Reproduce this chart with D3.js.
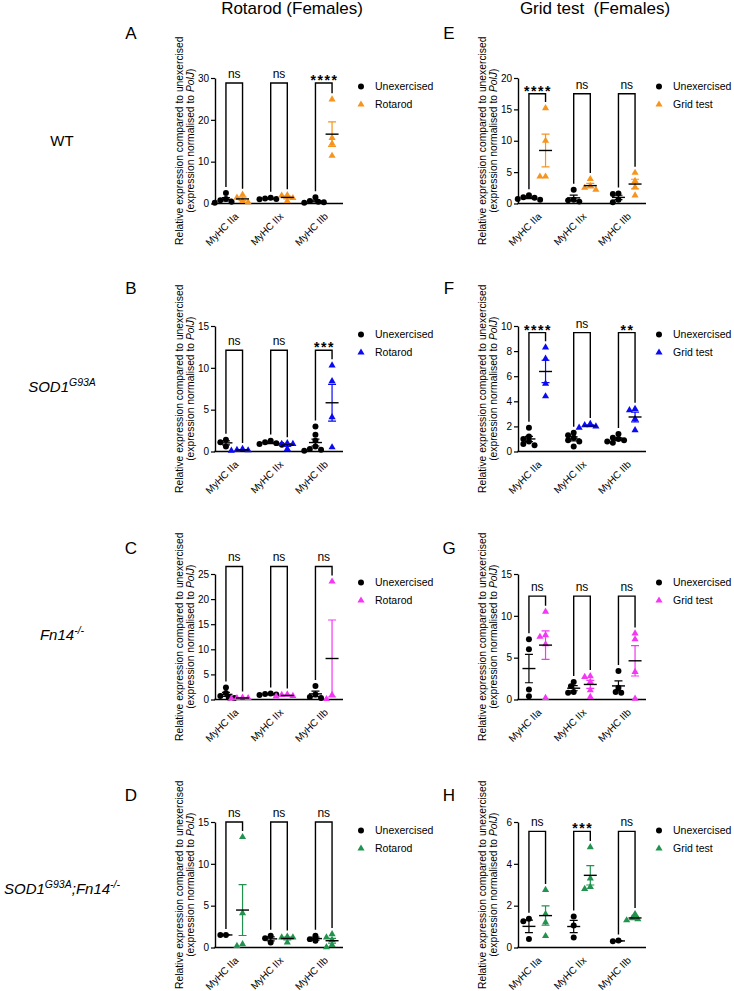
<!DOCTYPE html>
<html>
<head>
<meta charset="utf-8">
<script src="https://cdn.jsdelivr.net/npm/d3@7"></script>
<style>
body{margin:0;background:#fff;}
text{font-family:"Liberation Sans",Arial,sans-serif;fill:#000;}
</style>
</head>
<body>
<script>
var categories = ["MyHC IIa","MyHC IIx","MyHC IIb"];

// rotarod, unexercised vs exercised, one list per category
var wtRotUnex = [[2.5,1.1,0.8,0.4,0.2],[1.4,1.2,1.1,1.0],[1.5,0.6,0.4,0.3,0.2]];
var wtRotEx = [[2.1,1.4,0.6,0.3],[2.0,1.9,1.3,0.6],[24.9,15.7,14.3,11.4]];
var sodRotUnex = [[1.4,1.1,0.6],[1.3,1.1,1.0,0.9,0.8],[3.0,2.0,1.3,0.6,0.3,0.2,0.1]];
var sodRotEx = [[0.3,0.2,0.15,0.1],[1.0,0.9,0.9,0.3],[10.3,8.4,4.1,0.5]];
var fnRotUnex = [[2.4,1.3,0.7,0.4,0.3],[1.2,1.1,1.0,0.9],[2.7,1.0,0.5,0.3]];
var fnRotEx = [[0.4,0.3,0.3,0.2],[1.0,0.9,0.7,0.6],[23.5,0.9,0.1]];
var dblRotUnex = [[1.5,1.5],[1.4,1.1,0.6],[1.4,1.0,0.8]];
var dblRotEx = [[13.2,4.1,0.4,0.2],[1.3,1.2,1.2,0.6],[1.6,1.2,0.9,0.3,0.05]];

// grid test
var wtGridUnex = [[1.3,1.0,0.9,0.7,0.6],[2.2,0.6,0.5,0.3],[1.6,1.5,0.6,0.2]];
var wtGridEx = [[15.2,10.0,4.3,4.3],[3.9,2.8,2.5,2.2],[4.9,3.6,2.6,1.3]];
var sodGridUnex = [[1.9,1.2,1.0,0.8,0.6,0.5],[1.5,1.3,1.1,0.9,0.8,0.4],[1.4,1.1,1.0,0.9,0.8,0.7]];
var sodGridEx = [[8.3,7.4,5.4,4.4],[2.2,2.1,2.0,1.9],[3.4,3.3,2.6,1.7]];
var fnGridUnex = [[7.2,6.0,1.2,0.4],[2.1,1.6,0.9,0.8],[3.4,1.4,0.9,0.8]];
var fnGridEx = [[10.5,7.7,7.5,6.6,0.2],[2.8,2.7,2.1,1.1,0.3],[7.9,7.2,3.3,0.1]];
var dblGridUnex = [[1.37,1.25,0.41],[1.48,1.05,0.48],[0.3,0.33]];
var dblGridEx = [[2.75,1.6,1.2,0.55],[4.8,3.3,2.9,2.8],[1.6,1.4,1.35,1.3]];

var sigA = ["ns","ns","****"], sigB = ["ns","ns","***"], sigC = ["ns","ns","ns"], sigD = ["ns","ns","ns"];
var sigE = ["****","ns","ns"], sigF = ["****","ns","**"], sigG = ["ns","ns","ns"], sigH = ["ns","***","ns"];

var ticksA = [0,10,20,30], ticksB = [0,5,10,15], ticksC = [0,5,10,15,20,25], ticksD = [0,5,10,15];
var ticksE = [0,5,10,15,20], ticksF = [0,2,4,6,8,10], ticksG = [0,5,10,15], ticksH = [0,2,4,6];

var orange = "#F7941D", blue = "#0A0AF5", magenta = "#F536F5", green = "#21934F";

var panels = [
	{letter:"A",col:0,row:0,unex:wtRotUnex,ex:wtRotEx,exName:"Rotarod",color:orange,ticks:ticksA,sig:sigA,bracket:28.8},
	{letter:"B",col:0,row:1,unex:sodRotUnex,ex:sodRotEx,exName:"Rotarod",color:blue,ticks:ticksB,sig:sigB,bracket:12.1},
	{letter:"C",col:0,row:2,unex:fnRotUnex,ex:fnRotEx,exName:"Rotarod",color:magenta,ticks:ticksC,sig:sigC,bracket:26.5},
	{letter:"D",col:0,row:3,unex:dblRotUnex,ex:dblRotEx,exName:"Rotarod",color:green,ticks:ticksD,sig:sigD,bracket:15},
	{letter:"E",col:1,row:0,unex:wtGridUnex,ex:wtGridEx,exName:"Grid test",color:orange,ticks:ticksE,sig:sigE,bracket:17.5},
	{letter:"F",col:1,row:1,unex:sodGridUnex,ex:sodGridEx,exName:"Grid test",color:blue,ticks:ticksF,sig:sigF,bracket:9.47},
	{letter:"G",col:1,row:2,unex:fnGridUnex,ex:fnGridEx,exName:"Grid test",color:magenta,ticks:ticksG,sig:sigG,bracket:12.35},
	{letter:"H",col:1,row:3,unex:dblGridUnex,ex:dblGridEx,exName:"Grid test",color:green,ticks:ticksH,sig:sigH,bracket:5.55}
];

var width = 734, height = 991;
var axisX = [215,518];
var rowTop = [78,326,574,822];
var plotW = 128, plotH = 125.5;
var letterX = [131,449];
var letterY = [39,294,554,801];
var legendX = [361,659];

var svg = d3.select("body").append("svg").attr("width",width).attr("height",height);

svg.append("text").attr("x",292).attr("y",14).attr("text-anchor","middle").style("font-size","17px").text("Rotarod (Females)");
svg.append("text").attr("x",595).attr("y",14).attr("text-anchor","middle").style("font-size","17px").style("white-space","pre").text("Grid test  (Females)");

// row labels
var rowLabels = [
	[{t:"WT",it:false}],
	[{t:"SOD1",it:true},{t:"G93A",it:true,sup:true}],
	[{t:"Fn14",it:true},{t:"-/-",it:true,sup:true}],
	[{t:"SOD1",it:true},{t:"G93A",it:true,sup:true},{t:";Fn14",it:true,down:true},{t:"-/-",it:true,sup:true}]
];
var rowLabelY = [146,392,640,894];

rowLabels.forEach(function(parts,i){
	var t = svg.append("text").attr("x",62).attr("y",rowLabelY[i]).attr("text-anchor","middle").style("font-size","15px");
	parts.forEach(function(p){
		var s = t.append("tspan").text(p.t).style("font-style",p.it?"italic":"normal");
		if(p.sup){ s.attr("dy",-6).style("font-size","10.5px"); }
		if(p.down){ s.attr("dy",6); }
	});
});

function meanSem(v){
	var m = d3.mean(v);
	var sd = v.length>1 ? d3.deviation(v) : 0;
	return {mean:m, sem:sd/Math.sqrt(v.length)};
}

// simple swarm so overlapping points spread sideways
function swarm(vals, cx, y){
	var placed = [];
	var minD = 5, step = 2.8;
	vals.slice().sort(function(a,b){ return b-a; }).forEach(function(v){
		var py = y(v), off = 0;
		for(var j=0;j<12;j++){
			off = j==0 ? 0 : Math.ceil(j/2)*step*(j%2 ? -1 : 1);
			var ok = placed.every(function(q){
				var dx = q.x-(cx+off), dy = q.y-py;
				return dx*dx+dy*dy >= minD*minD;
			});
			if(ok) break;
		}
		placed.push({x:cx+off,y:py,v:v});
	});
	return placed;
}

var circle = d3.symbol().type(d3.symbolCircle).size(28);
var tri = d3.symbol().type(d3.symbolTriangle).size(22);

panels.forEach(function(p){
	var ax = axisX[p.col], top = rowTop[p.row];
	var g = svg.append("g");
	var ymax = p.ticks[p.ticks.length-1];
	var y = d3.scaleLinear().domain([0,ymax]).range([top+plotH,top]);
	var x = d3.scalePoint().domain(categories).range([ax,ax+plotW]).padding(0.43);
	var xs = d3.scalePoint().domain(["Unexercised",p.exName]).range([-8.3,8.3]);

	// y axis
	var yAxis = g.append("g").attr("transform","translate("+ax+",0)")
		.call(d3.axisLeft(y).tickValues(p.ticks).tickFormat(d3.format("d")).tickSize(4).tickSizeOuter(0).tickPadding(2));
	yAxis.select(".domain").attr("stroke","#000").attr("stroke-width",1.4);
	yAxis.selectAll(".tick line").attr("stroke","#000").attr("stroke-width",1.2);
	yAxis.selectAll(".tick text").style("font-size","10px").attr("fill","#000");

	// x axis
	var xAxis = g.append("g").attr("transform","translate(0,"+(top+plotH)+")")
		.call(d3.axisBottom(x).tickSize(0).tickSizeOuter(0));
	xAxis.select(".domain").attr("stroke","#000").attr("stroke-width",1.4)
		.attr("d","M"+(ax-0.7)+",0H"+(ax+plotW));
	xAxis.selectAll(".tick text")
		.attr("x",0).attr("y",0).attr("dy","0.35em")
		.attr("transform","translate(2,11) rotate(-45)")
		.attr("text-anchor","end")
		.style("font-size","10px").attr("fill","#000");

	// axis title
	var ty = top+plotH/2;
	g.append("text").attr("transform","translate("+(ax-32.3)+","+ty+") rotate(-90)")
		.attr("text-anchor","middle").style("font-size","10.3px")
		.text("Relative expression compared to unexercised");
	var t2 = g.append("text").attr("transform","translate("+(ax-21.3)+","+ty+") rotate(-90)")
		.attr("text-anchor","middle").style("font-size","10.3px");
	t2.append("tspan").text("(expression normalised to ");
	t2.append("tspan").style("font-style","italic").text("PolJ");
	t2.append("tspan").text(")");

	// panel letter
	g.append("text").attr("x",letterX[p.col]).attr("y",letterY[p.row]).attr("text-anchor","middle")
		.style("font-size","17px").text(p.letter);

	var series = [
		{name:"Unexercised",vals:p.unex,color:"#000",sym:circle},
		{name:p.exName,vals:p.ex,color:p.color,sym:tri}
	];

	var legTop = {};
	series.forEach(function(s){
		var sg = g.append("g");
		s.vals.forEach(function(v,i){
			var cx = x(categories[i])+xs(s.name);
			var pts = swarm(v,cx,y);
			sg.selectAll(null).data(pts).enter().append("path")
				.attr("d",s.sym)
				.attr("transform",function(d){ return "translate("+d.x+","+d.y+")"; })
				.attr("fill",s.color);
			var ms = meanSem(v);
			var ey1 = y(ms.mean+ms.sem), ey0 = y(ms.mean-ms.sem);
			sg.append("path")
				.attr("d","M"+cx+","+ey1+"V"+ey0+"M"+(cx-4)+","+ey1+"H"+(cx+4)+"M"+(cx-4)+","+ey0+"H"+(cx+4))
				.attr("stroke",s.color).attr("stroke-width",1.2).attr("fill","none");
			sg.append("line").attr("x1",cx-6.5).attr("x2",cx+6.5).attr("y1",y(ms.mean)).attr("y2",y(ms.mean))
				.attr("stroke","#000").attr("stroke-width",1.4);
			var hi = Math.max(d3.max(v), ms.mean+ms.sem);
			legTop[s.name+i] = y(hi)-6;
		});
	});

	// significance brackets
	var by = y(p.bracket);
	categories.forEach(function(c,i){
		var xl = x(c)+xs("Unexercised"), xr = x(c)+xs(p.exName);
		g.append("path")
			.attr("d","M"+xl+","+legTop["Unexercised"+i]+"V"+by+"H"+xr+"V"+legTop[p.exName+i])
			.attr("fill","none").attr("stroke","#000").attr("stroke-width",1.4);
		var lab = p.sig[i];
		var st = g.append("text").attr("x",(xl+xr)/2).attr("text-anchor","middle").text(lab);
		if(lab=="ns"){
			st.attr("y",by-5).style("font-size","12px");
		} else {
			st.attr("x",(xl+xr)/2+0.8).attr("y",by+2).style("font-size","14px").style("font-weight","bold").style("letter-spacing","1.6px");
		}
	});

	// legend
	var lx = legendX[p.col];
	g.append("path").attr("d",circle).attr("transform","translate("+lx+","+(top+8.5)+")").attr("fill","#000");
	g.append("path").attr("d",tri).attr("transform","translate("+lx+","+(top+26.5)+")").attr("fill",p.color);
	g.append("text").attr("x",lx+14).attr("y",top+8.5).attr("dy","0.35em").style("font-size","10.5px").text("Unexercised");
	g.append("text").attr("x",lx+14).attr("y",top+26.5).attr("dy","0.35em").style("font-size","10.5px").text(p.exName);
});
</script>
</body>
</html>
